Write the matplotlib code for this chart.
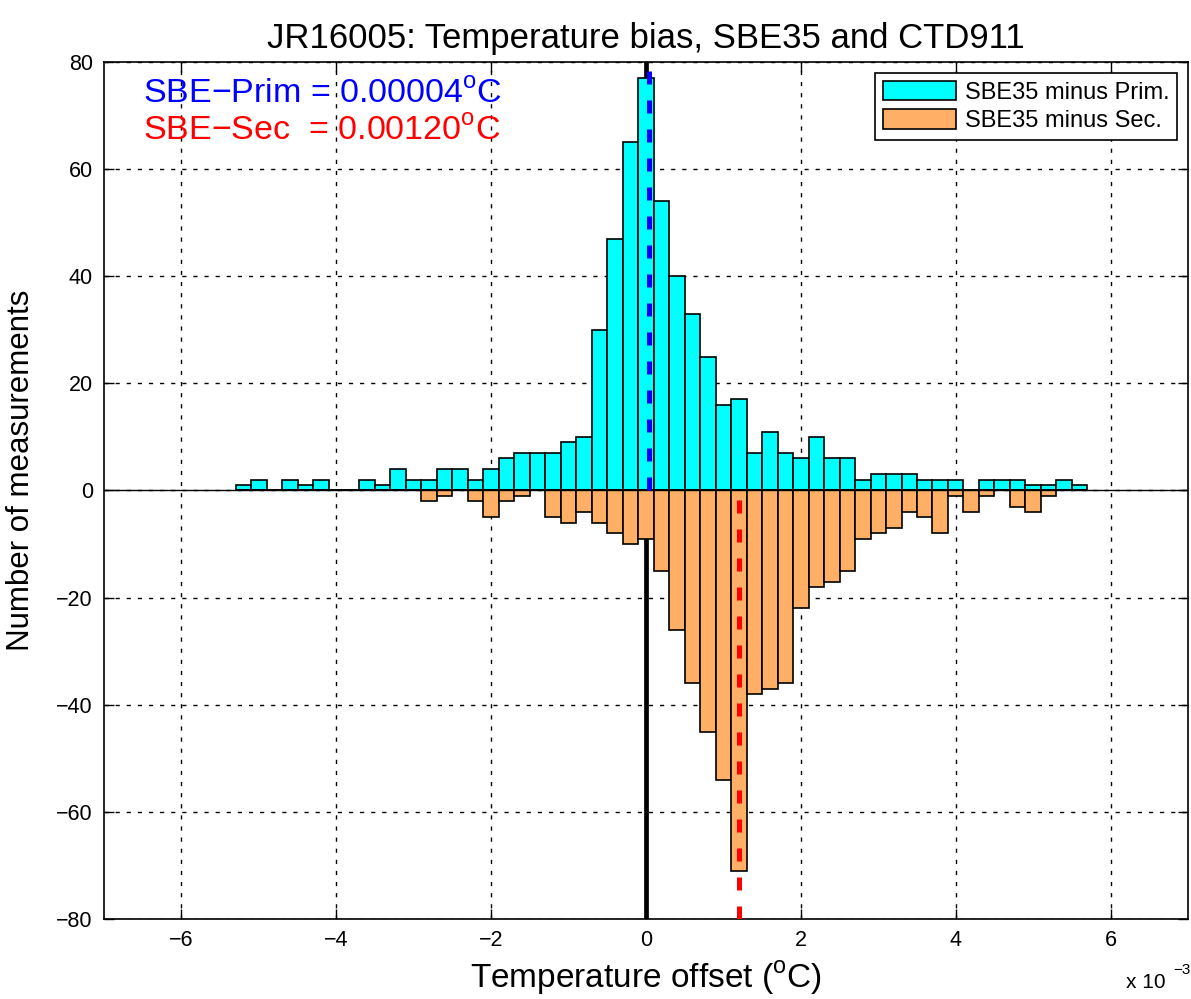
import numpy as np
import matplotlib.pyplot as plt

plt.rcParams['font.family'] = ['Liberation Sans', 'DejaVu Sans']
plt.rcParams['mathtext.fontset'] = 'custom'
plt.rcParams['mathtext.rm'] = 'Liberation Sans'

# bin centres (units of 1e-3 degC) and counts per bin
centers = np.array([-5.2, -5.0, -4.8, -4.6, -4.4, -4.2, -4.0, -3.8, -3.6, -3.4,
                    -3.2, -3.0, -2.8, -2.6, -2.4, -2.2, -2.0, -1.8, -1.6, -1.4,
                    -1.2, -1.0, -0.8, -0.6, -0.4, -0.2, 0.0, 0.2, 0.4, 0.6,
                    0.8, 1.0, 1.2, 1.4, 1.6, 1.8, 2.0, 2.2, 2.4, 2.6,
                    2.8, 3.0, 3.2, 3.4, 3.6, 3.8, 4.0, 4.2, 4.4, 4.6,
                    4.8, 5.0, 5.2, 5.4, 5.6])
prim_counts = np.array([1, 2, 0, 2, 1, 2, 0, 0, 2, 1,
                        4, 2, 2, 4, 4, 2, 4, 6, 7, 7,
                        7, 9, 10, 30, 47, 65, 77, 54, 40, 33,
                        25, 16, 17, 7, 11, 7, 6, 10, 6, 6,
                        2, 3, 3, 3, 2, 2, 2, 0, 2, 2,
                        2, 1, 1, 2, 1])
sec_counts = np.array([0, 0, 0, 0, 0, 0, 0, 0, 0, 0,
                       0, 0, 2, 1, 0, 2, 5, 2, 1, 0,
                       5, 6, 4, 6, 8, 10, 9, 15, 26, 36,
                       45, 54, 71, 38, 37, 36, 22, 18, 17, 15,
                       9, 8, 7, 4, 5, 8, 1, 4, 1, 0,
                       3, 4, 1, 0, 0])
bin_width = 0.2
prim_mean = 0.00004  # degC
sec_mean = 0.00120   # degC

fig = plt.figure(figsize=(11.91, 9.99), dpi=100)
ax = fig.add_axes([0.0873, 0.0801, 0.9102, 0.8579])

ax.set_xlim(-7, 7)
ax.set_ylim(-80, 80)
ax.set_xticks([-6, -4, -2, 0, 2, 4, 6])
ax.set_yticks(np.arange(-80, 81, 20))
ax.grid(True, color='black', linestyle=(0, (3, 5)), linewidth=1.0)
ax.set_axisbelow(True)

# zero reference line at x=0 (behind bars)
ax.axvline(0, color='black', linewidth=3.4, zorder=1.5)

b1 = ax.bar(centers, prim_counts, width=bin_width, color='#00ffff',
            edgecolor='black', linewidth=1.2, zorder=2, label='SBE35 minus Prim.')
b2 = ax.bar(centers, -sec_counts, width=bin_width, color='#ffb066',
            edgecolor='black', linewidth=1.2, zorder=2, label='SBE35 minus Sec.')
ax.axhline(0, color='black', linewidth=1.0, zorder=3)

# mean offsets
ax.plot([prim_mean * 1e3, prim_mean * 1e3], [0, 80], color='blue', linewidth=3.6,
        dashes=(2.6, 3.2), zorder=4)
ax.plot([sec_mean * 1e3, sec_mean * 1e3], [-80, 0], color='red', linewidth=3.6,
        dashes=(2.6, 3.2), zorder=4)

ax.text(-6.5, 74, 'SBE\u2212Prim = %.5f$^\\mathrm{o}$C' % prim_mean, color='blue',
        fontsize=24.5, va='center', ha='left')
ax.text(-6.5, 67, 'SBE\u2212Sec  = %.5f$^\\mathrm{o}$C' % sec_mean, color='red',
        fontsize=24.5, va='center', ha='left')

leg = ax.legend(handles=[b1, b2], loc='upper right', fontsize=17, fancybox=False,
                edgecolor='black', framealpha=1, borderaxespad=0.45,
                handlelength=3.1, handleheight=0.9, borderpad=0.35,
                labelspacing=0.22, handletextpad=0.34)
leg.get_frame().set_linewidth(1.2)

ax.tick_params(direction='in', length=7, width=1, top=True, right=True,
               labelsize=15.5, pad=8)
for s in ax.spines.values():
    s.set_linewidth(1.2)

ax.set_title('JR16005: Temperature bias, SBE35 and CTD911', fontsize=25, pad=10)
ax.set_xlabel('Temperature offset ($^\\mathrm{o}$C)', fontsize=24, labelpad=6)
ax.set_ylabel('Number of measurements', fontsize=22.5)
ax.yaxis.set_label_coords(-0.0627, 0.523)
fig.text(1126 / 1191, 11 / 999, 'x 10', fontsize=15, ha='left', va='baseline')
fig.text(1173 / 1191, 25 / 999, '\u22123', fontsize=11, ha='left', va='baseline')

fig.savefig('out.png', dpi=100)
